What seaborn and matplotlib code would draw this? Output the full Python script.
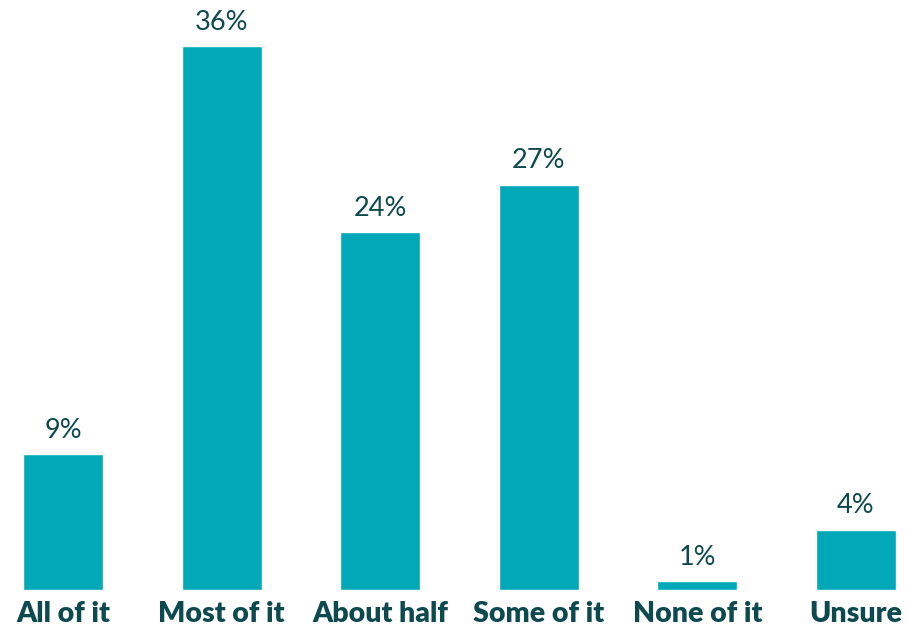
import matplotlib
matplotlib.use("Agg")
import matplotlib.pyplot as plt
import seaborn as sns
import pandas as pd

categories = ["All of it", "Most of it", "About half", "Some of it", "None of it", "Unsure"]
values = [9.0, 36.0, 23.7, 26.85, 0.6, 4.0]
value_labels = ["9%", "36%", "24%", "27%", "1%", "4%"]

BAR = "#00A8B8"
TXT = "#0D4A4F"

sns.set_theme(style="white")
plt.rcParams["font.family"] = ["Lato", "DejaVu Sans"]

df = pd.DataFrame({"cat": categories, "val": values})

fig = plt.figure(figsize=(9.06, 6.31), dpi=100)
ax = fig.add_axes([23/906, 41/631, 873/906, 590/631])
sns.barplot(data=df, x="cat", y="val", color=BAR, width=0.504, saturation=1, ax=ax)

ax.set_xlim(-0.252, 5.252)
ax.set_ylim(0, 39.07)
ax.set_xlabel("")
ax.set_ylabel("")
ax.set_yticks([])
for s in ax.spines.values():
    s.set_visible(False)
ax.tick_params(axis="x", length=0, pad=8)
for lab in ax.get_xticklabels():
    lab.set_fontsize(20.5)
    lab.set_fontweight("heavy")
    lab.set_color(TXT)

for i, (v, t) in enumerate(zip(values, value_labels)):
    ax.annotate(t, (i, v), xytext=(0, 8), textcoords="offset points",
                ha="center", va="bottom", fontsize=19.5, color=TXT)

fig.savefig("out.png", dpi=100)
